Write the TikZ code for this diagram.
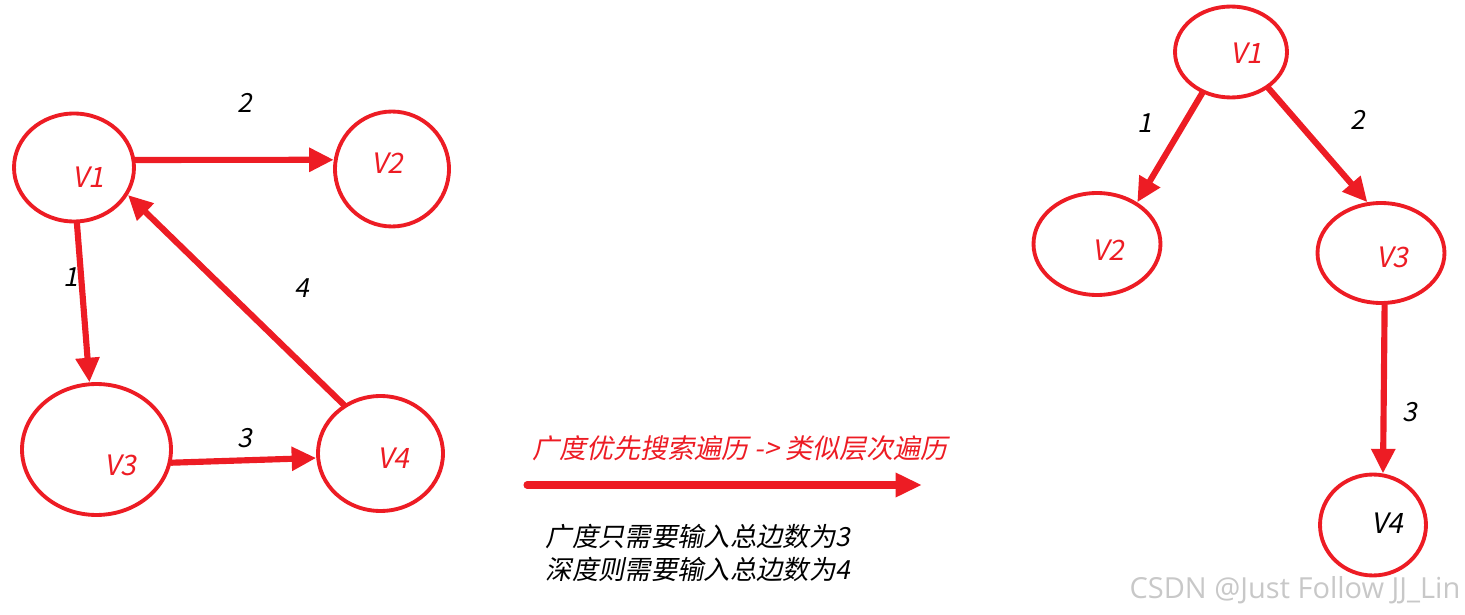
\documentclass[tikz,border=0pt]{standalone}
\usepackage{fontspec}
\setmainfont{Open Sans}
\newfontfamily\cjk[FakeSlant=0.2]{Noto Sans CJK SC}
\usetikzlibrary{shapes.geometric,arrows.meta}
\definecolor{dred}{RGB}{237,28,36}
\definecolor{wmgray}{RGB}{200,200,200}
\begin{document}
\begin{tikzpicture}[x=0.02cm,y=-0.02cm,
  vert/.style={ellipse,draw=dred,line width=2.2pt,inner sep=0pt},
  vtext/.style={text=dred,font=\cjk\fontsize{16pt}{18pt}\selectfont,inner sep=0pt},
  vtextb/.style={text=black,font=\cjk\fontsize{16pt}{18pt}\selectfont,inner sep=0pt},
  num/.style={text=black,font=\cjk\fontsize{15pt}{18pt}\selectfont,inner sep=0pt},
  edge/.style={draw=dred,line width=3.5pt,line cap=round,-{Triangle[length=14pt,width=13pt]}},
  bigedge/.style={draw=dred,line width=4pt,line cap=round,-{Triangle[length=15pt,width=13pt]}},
]
\useasboundingbox (0,0) rectangle (1465,615);
% left graph
\node[vert,minimum width=2.40cm,minimum height=2.16cm] (L1) at (74,167.5) {};
\node[vert,minimum width=2.28cm,minimum height=2.30cm] (L2) at (392,169) {};
\node[vert,minimum width=2.98cm,minimum height=2.62cm] (L3) at (96.5,449.5) {};
\node[vert,minimum width=2.50cm,minimum height=2.30cm] (L4) at (380.5,453.5) {};
\node[vtext] (L1t) at (88,177) {V1};
\node[vtext] (L2t) at (387,163) {V2};
\node[vtext] (L3t) at (120,465) {V3};
\node[vtext] (L4t) at (393,458) {V4};
\draw[edge] (L1.7) -- (L2.171);
\draw[edge] (L1.-87) -- (L3.96);
\draw[edge] (L3.-10) -- (L4.184);
\draw[edge] (L4.127) -- (L1.-27);
\node[num] (e2) at (245,103) {2};
\node[num] (e1) at (71,277) {1};
\node[num] (e4) at (302,288) {4};
\node[num] (e3) at (245,438) {3};
% middle
\node[text=dred,font=\cjk\fontsize{15.4pt}{18pt}\selectfont,inner sep=0pt] (title) at (740,448) {广度优先搜索遍历 -> 类似层次遍历};
\coordinate (a0) at (527,485);
\coordinate (a1) at (922,485);
\draw[bigedge] (a0) -- (a1);
\node[align=left,text=black,font=\cjk\fontsize{15pt}{18.7pt}\selectfont,inner sep=0pt] (note) at (698,553) {广度只需要输入总边数为3\\深度则需要输入总边数为4};
% right graph
\node[vert,minimum width=2.24cm,minimum height=1.82cm] (R1) at (1231,52) {};
\node[vert,minimum width=2.54cm,minimum height=2.04cm] (R2) at (1097,244) {};
\node[vert,minimum width=2.54cm,minimum height=2.00cm] (R3) at (1381,253) {};
\node[vert,minimum width=2.12cm,minimum height=2.02cm] (R4) at (1373,525) {};
\node[vtext] (R1t) at (1246,53) {V1};
\node[vtext] (R2t) at (1108,250) {V2};
\node[vtext] (R3t) at (1392,257) {V3};
\node[vtextb] (R4t) at (1387,523) {V4};
\draw[edge] (R1.235) -- (R2.46);
\draw[edge] (R1.-44) -- (R3.105);
\draw[edge] (R3.-86) -- (R4.79);
\node[num] (f1) at (1145,123) {1};
\node[num] (f2) at (1358,120) {2};
\node[num] (f3) at (1410,412) {3};
% watermark
\node[text=wmgray,font=\fontsize{16.5pt}{18pt}\selectfont,inner sep=0pt] (wm) at (1295,590) {CSDN @Just Follow JJ\_Lin};
\end{tikzpicture}
\end{document}
